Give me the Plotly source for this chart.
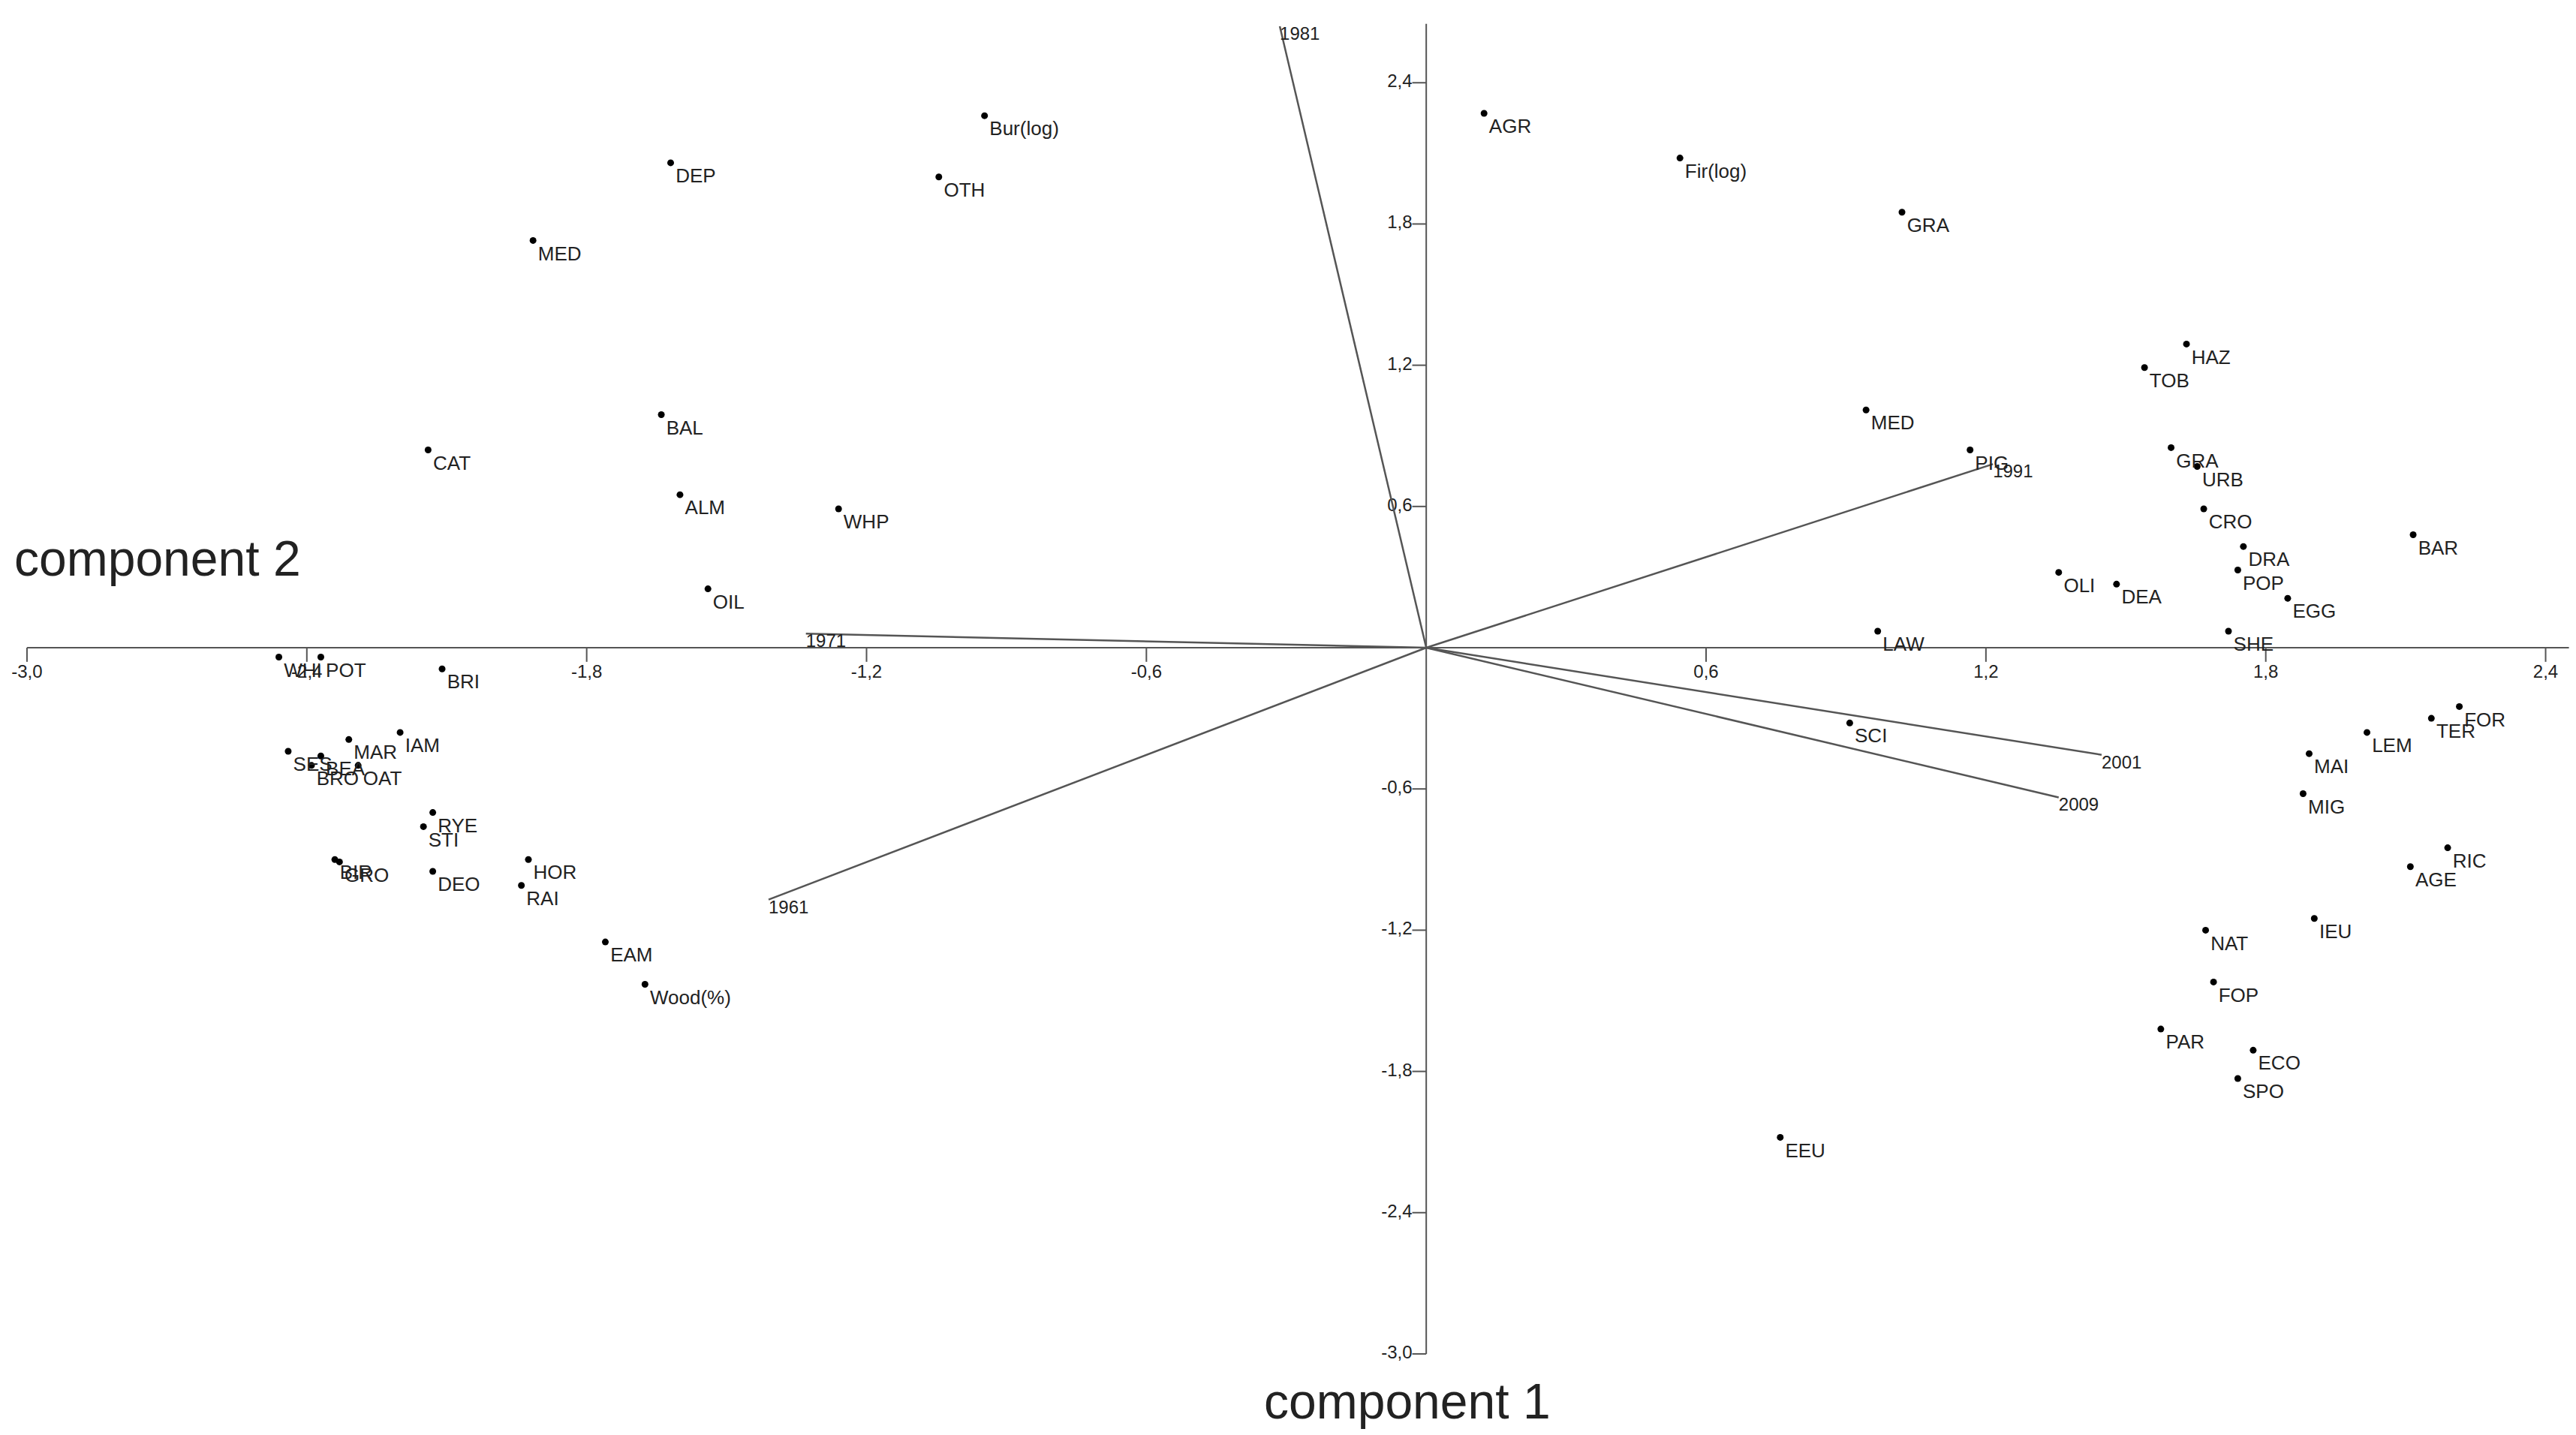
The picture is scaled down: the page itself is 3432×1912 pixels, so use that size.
import plotly.graph_objects as go

labels = ["Bur(log)","DEP","OTH","MED","BAL","CAT","ALM","WHP","OIL","WHI","POT","BRI","IAM","MAR","SES","BEA","BRO","OAT","RYE","STI","BIR","GRO","DEO","HOR","RAI","EAM","Wood(%)",
          "AGR","Fir(log)","GRA","HAZ","TOB","MED","PIG","GRA","URB","CRO","BAR","DRA","POP","OLI","DEA","EGG","SHE","LAW","SCI","FOR","TER","LEM","MAI","MIG","RIC","AGE","IEU","NAT","FOP","PAR","ECO","SPO","EEU"]
comp1 = [-0.947,-1.62,-1.045,-1.915,-1.64,-2.14,-1.60,-1.26,-1.54,-2.46,-2.37,-2.11,-2.20,-2.31,-2.44,-2.37,-2.39,-2.29,-2.13,-2.15,-2.34,-2.33,-2.13,-1.925,-1.94,-1.76,-1.675,
         0.124,0.544,1.02,1.63,1.54,0.943,1.166,1.597,1.653,1.667,2.116,1.752,1.74,1.356,1.48,1.847,1.72,0.968,0.908,2.215,2.155,2.017,1.893,1.88,2.19,2.11,1.904,1.671,1.688,1.575,1.773,1.74,0.759]
comp2 = [2.26,2.06,2.00,1.73,0.99,0.84,0.65,0.59,0.25,-0.04,-0.04,-0.09,-0.36,-0.39,-0.44,-0.46,-0.50,-0.50,-0.70,-0.76,-0.90,-0.91,-0.95,-0.90,-1.01,-1.25,-1.43,
         2.27,2.08,1.85,1.29,1.19,1.01,0.84,0.85,0.77,0.59,0.48,0.43,0.33,0.32,0.27,0.21,0.07,0.07,-0.32,-0.25,-0.30,-0.36,-0.45,-0.62,-0.85,-0.93,-1.15,-1.20,-1.42,-1.62,-1.71,-1.83,-2.08]

years = ["1961","1971","1981","1991","2001","2009"]
year_c1 = [-1.41,-1.33,-0.314,1.215,1.448,1.356]
year_c2 = [-1.07,0.06,2.64,0.78,-0.455,-0.636]

xticks = [-3.0,-2.4,-1.8,-1.2,-0.6,0.6,1.2,1.8,2.4]
yticks = [2.4,1.8,1.2,0.6,-0.6,-1.2,-1.8,-2.4,-3.0]
fmt = lambda v: f"{v:.1f}".replace(".", ",")

FONT = "Liberation Sans"
fig = go.Figure()
# axes
fig.add_trace(go.Scatter(x=[-3.0,2.45], y=[0,0], mode="lines", line=dict(color="#555", width=2), hoverinfo="skip"))
fig.add_trace(go.Scatter(x=[0,0], y=[-3.0,2.65], mode="lines", line=dict(color="#555", width=2), hoverinfo="skip"))
# ticks
for t in xticks:
    fig.add_trace(go.Scatter(x=[t,t], y=[0,-0.06], mode="lines", line=dict(color="#555", width=2), hoverinfo="skip"))
for t in yticks:
    fig.add_trace(go.Scatter(x=[0,-0.03], y=[t,t], mode="lines", line=dict(color="#555", width=2), hoverinfo="skip"))
fig.add_trace(go.Scatter(x=xticks, y=[-0.07]*len(xticks), mode="text", text=[fmt(t) for t in xticks],
                         textposition="bottom center", textfont=dict(family=FONT, size=24, color="#222")))
fig.add_trace(go.Scatter(x=[-0.03]*len(yticks), y=yticks, mode="text", text=[fmt(t) for t in yticks],
                         textposition="middle left", textfont=dict(family=FONT, size=24, color="#222")))
# year vectors
for n, a, b in zip(years, year_c1, year_c2):
    fig.add_trace(go.Scatter(x=[0,a], y=[0,b], mode="lines", line=dict(color="#555", width=2.5), hoverinfo="skip"))
fig.add_trace(go.Scatter(x=year_c1, y=year_c2, mode="text", text=years, textposition="bottom right",
                         textfont=dict(family=FONT, size=24, color="#222")))
# points
fig.add_trace(go.Scatter(x=comp1, y=comp2, mode="markers+text", text=labels, textposition="bottom right",
                         marker=dict(color="black", size=9),
                         textfont=dict(family=FONT, size=26, color="#222")))

fig.update_layout(
    width=3432, height=1912, showlegend=False,
    plot_bgcolor="white", paper_bgcolor="white",
    margin=dict(l=0, r=0, t=0, b=0),
    xaxis=dict(range=[-3.045, 2.478], visible=False),
    yaxis=dict(range=[-3.37, 2.726], visible=False),
    annotations=[
        dict(x=-2.72, y=0.38, xref="x", yref="y", text="component 2", showarrow=False,
             font=dict(family=FONT, size=66, color="#222")),
        dict(x=-0.04, y=-3.2, xref="x", yref="y", text="component 1", showarrow=False,
             font=dict(family=FONT, size=66, color="#222")),
    ],
)
fig.write_html("out.html")
